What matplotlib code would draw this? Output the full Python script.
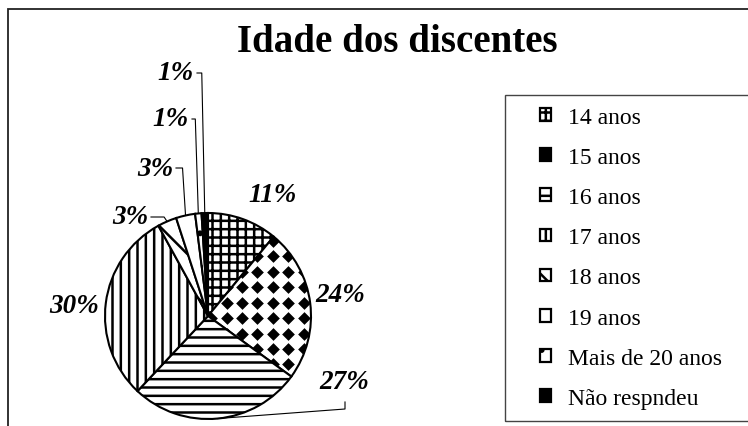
import numpy as np
import matplotlib
matplotlib.use("Agg")
import matplotlib.pyplot as plt
from matplotlib.patches import Rectangle, Patch

# data
categories = ["14 anos", "15 anos", "16 anos", "17 anos", "18 anos",
              "19 anos", "Mais de 20 anos", "Não respndeu"]
percentages = [11, 24, 27, 30, 3, 3, 1, 1]
pct_labels = ["11%", "24%", "27%", "30%", "3%", "3%", "1%", "1%"]

# styles
hatches = ["++", "", "--", "||", "\\", "", ".", ""]
face_colors = ["white"] * 7 + ["black"]

# label layout in image pixels (x, y, horizontal alignment)
label_layout = [(273, 195, "center"), (340, 296, "center"), (344, 383, "center"),
                (74, 307, "center"), (148, 218, "right"), (173, 169, "right"),
                (189, 120, "right"), (194, 74, "right")]

plt.rcParams["font.family"] = ["Liberation Serif", "DejaVu Serif"]
plt.rcParams["hatch.linewidth"] = 1.8

W, H = 748, 427
fig = plt.figure(figsize=(W / 100, H / 100), dpi=100)

# pie center / radius in image pixels
R = 103
cx, cy = 208, 317
ax = fig.add_axes([(cx - R) / W, (H - cy - R) / H, 2 * R / W, 2 * R / H])

wedges, _ = ax.pie(percentages, startangle=90, counterclock=False,
                   colors=face_colors, radius=1,
                   wedgeprops=dict(edgecolor="black", linewidth=1.5))
for w, h in zip(wedges, hatches):
    w.set_hatch(h)
ax.set_xlim(-1, 1)
ax.set_ylim(-1, 1)
ax.axis("off")

# diamond fill pattern for the 15 anos slice
g = np.arange(-1, 1.01, 0.15)
gx, gy = np.meshgrid(g - 0.02, g + 0.08)
dots = ax.scatter(gx.ravel(), gy.ravel(), marker="D", s=42,
                  c="black", linewidths=0, zorder=3)
dots.set_clip_path(wedges[1])


def to_data(x, y):
    return (x - cx) / R, (cy - y) / R


# percentage labels
for i, (txt, (lx, ly, ha)) in enumerate(zip(pct_labels, label_layout)):
    dx, dy = to_data(lx, ly)
    ax.text(dx, dy, txt, ha=ha, va="center", fontsize=19.5,
            fontweight="bold", fontstyle="italic", clip_on=False)

# leader lines for the small slices
for i in range(4, 8):
    w = wedges[i]
    mid = np.deg2rad((w.theta1 + w.theta2) / 2)
    ex, ey = np.cos(mid), np.sin(mid)
    lx, ly, _ = label_layout[i]
    sx, sy = to_data(lx + 3, ly)
    ax.plot([sx, ex - 3 / R, ex], [sy, sy, ey], color="black", lw=0.8,
            clip_on=False)

# leader for 27%
w = wedges[2]
mid = np.deg2rad((w.theta1 + w.theta2) / 2)
ex, ey = np.cos(mid), np.sin(mid)
lx, ly, _ = label_layout[2]
sx, sy = to_data(lx + 1, ly + 20)
ax.plot([sx, sx, ex], [sy, sy - 7 / R, ey], color="black", lw=0.8, clip_on=False)

# title
fig.text(397 / W, 1 - 52 / H, "Idade dos discentes", ha="center", va="baseline",
         fontsize=28, fontweight="bold")

# outer frame and legend box (extend past the crop)
fig.add_artist(Rectangle((8 / W, -0.1), 1.2, 1 - 10 / H + 0.1,
                         transform=fig.transFigure, fill=False,
                         edgecolor="#222222", lw=1.3))
fig.add_artist(Rectangle((505 / W, 1 - 422 / H), 1, (422 - 96) / H,
                         transform=fig.transFigure, fill=False,
                         edgecolor="#444444", lw=1.0))

handles = []
for i, (fc, h) in enumerate(zip(face_colors, hatches)):
    if i == 1:
        handles.append(Patch(facecolor="black", edgecolor="black", lw=1.6))
    else:
        handles.append(Patch(facecolor=fc, edgecolor="black", hatch=h, lw=1.6))

fig.legend(handles, categories, loc="upper left",
           bbox_to_anchor=(540 / W, 1 - 108 / H), frameon=False, fontsize=17,
           handlelength=0.45, handleheight=0.45, handletextpad=0.72,
           labelspacing=0.81, borderpad=0, borderaxespad=0)

fig.savefig("out.png", dpi=100)
